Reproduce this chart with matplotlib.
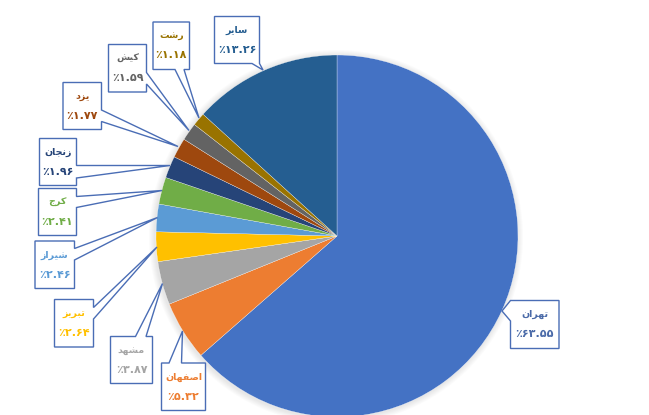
import matplotlib; matplotlib.use("Agg")
import matplotlib.pyplot as plt
from matplotlib.patches import Circle, Polygon

cities = ["تهران", "اصفهان", "مشهد", "تبریز", "شیراز", "کرج", "زنجان", "یزد", "کیش", "رشت", "سایر"]
shares = [63.55, 5.32, 3.87, 2.64, 2.46, 2.41, 1.96, 1.77, 1.59, 1.18, 13.26]
colors = ["#4472C4", "#ED7D31", "#A5A5A5", "#FFC000", "#5B9BD5", "#70AD47",
          "#264478", "#9E480E", "#636363", "#997300", "#255E91"]
text_colors = ["#4A6AA8", "#ED7D31", "#A5A5A5", "#FFC000", "#5B9BD5", "#70AD47",
               "#264478", "#9E480E", "#636363", "#997300", "#255E91"]

# callouts in image pixels: box (x0, y0, x1, y1), pointer side, base a, base b, tip
callouts = [
    ((510.5, 300.5, 559, 348.5), "left", 300.5, 321, (502, 311)),
    ((161.5, 363, 205.5, 410.5), "top", 169, 181.5, (182.5, 331)),
    ((110.5, 336.5, 152.5, 383.5), "top", 135.5, 146, (162.5, 283.5)),
    ((54.5, 299.5, 93.5, 347), "right", 307.5, 319, (157, 247)),
    ((35, 241, 74.5, 288.5), "right", 248.5, 260, (157.5, 217.5)),
    ((38.5, 188.5, 76.5, 235.5), "right", 196.5, 207.5, (162, 190.5)),
    ((39.5, 138.5, 76.5, 185.5), "right", 165.5, 178, (170, 165.5)),
    ((63, 82.5, 101.5, 129.5), "right", 110, 121.5, (178, 146.5)),
    ((108.5, 44.5, 146.5, 92), "right", 72.5, 84, (189, 130.5)),
    ((153, 22, 189.5, 69.5), "bottom", 175, 184, (199, 118)),
    ((214.5, 16.5, 259.5, 63.5), "bottom", 252, 259.5, (263, 70)),
]

# matplotlib does not shape Arabic script: isolated, final, initial, medial forms
FORMS = {"ا": (0xFE8D, 0xFE8E), "ب": (0xFE8F, 0xFE90, 0xFE91, 0xFE92), "ت": (0xFE95, 0xFE96, 0xFE97, 0xFE98),
         "ج": (0xFE9D, 0xFE9E, 0xFE9F, 0xFEA0), "د": (0xFEA9, 0xFEAA), "ر": (0xFEAD, 0xFEAE), "ز": (0xFEAF, 0xFEB0),
         "س": (0xFEB1, 0xFEB2, 0xFEB3, 0xFEB4), "ش": (0xFEB5, 0xFEB6, 0xFEB7, 0xFEB8),
         "ص": (0xFEB9, 0xFEBA, 0xFEBB, 0xFEBC), "ف": (0xFED1, 0xFED2, 0xFED3, 0xFED4),
         "م": (0xFEE1, 0xFEE2, 0xFEE3, 0xFEE4), "ن": (0xFEE5, 0xFEE6, 0xFEE7, 0xFEE8),
         "ه": (0xFEE9, 0xFEEA, 0xFEEB, 0xFEEC), "ی": (0xFBFC, 0xFBFD, 0xFBFE, 0xFBFF),
         "ک": (0xFB8E, 0xFB8F, 0xFB90, 0xFB91)}

def shape(word):
    out = []
    for i, ch in enumerate(word):
        f = FORMS[ch]
        joined_prev = i > 0 and len(FORMS[word[i - 1]]) == 4
        joined_next = i < len(word) - 1 and len(f) == 4
        idx = (3 if joined_next else 1) if joined_prev else (2 if joined_next else 0)
        out.append(chr(f[idx]))
    return "".join(reversed(out))

def percent(v):
    digits = f"{v:.2f}".translate(str.maketrans("0123456789", "۰۱۲۳۴۵۶۷۸۹"))
    return "٪" + digits

H = 415
fig = plt.figure(figsize=(6.49, 4.15), dpi=100)
ax = fig.add_axes([0, 0, 1, 1])
center = (337, H - 236)
radius = 181

# soft shadow round the pie
for k in range(6):
    ax.add_patch(Circle((center[0] - 1, center[1] - 1), radius + 1 + k, color="#808080", alpha=0.03, lw=0, zorder=0))

ax.pie(shares, colors=colors, startangle=90, counterclock=False, center=center, radius=radius,
       wedgeprops=dict(edgecolor="white", linewidth=0.2, zorder=1), frame=True)
ax.set_xlim(0, 649); ax.set_ylim(0, H)
ax.set_aspect("equal")
ax.axis("off")

for (box, side, a, b, tip), city, val, tc in zip(callouts, cities, shares, text_colors):
    x0, y0, x1, y1 = box
    if side == "right":
        pts = [(x0, y0), (x1, y0), (x1, a), tip, (x1, b), (x1, y1), (x0, y1)]
    elif side == "left":
        pts = [(x0, y0), (x1, y0), (x1, y1), (x0, y1), (x0, b), tip, (x0, a)]
    elif side == "top":
        pts = [(x0, y0), (a, y0), tip, (b, y0), (x1, y0), (x1, y1), (x0, y1)]
    else:
        pts = [(x0, y0), (x1, y0), (x1, y1), (b, y1), tip, (a, y1), (x0, y1)]
    ax.add_patch(Polygon([(x, H - y) for x, y in pts], closed=True, fc="white", ec="#4A6DB5", lw=1.0, zorder=3))
    xc = (x0 + x1) / 2
    ax.text(xc, H - (y0 + 14), shape(city), color=tc, fontsize=6.8, fontweight="bold", ha="center", va="center", zorder=4)
    ax.text(xc, H - (y0 + 33.5), percent(val), color=tc, fontsize=8, fontweight="bold", ha="center", va="center", zorder=4)

fig.savefig("out.png", dpi=100)
